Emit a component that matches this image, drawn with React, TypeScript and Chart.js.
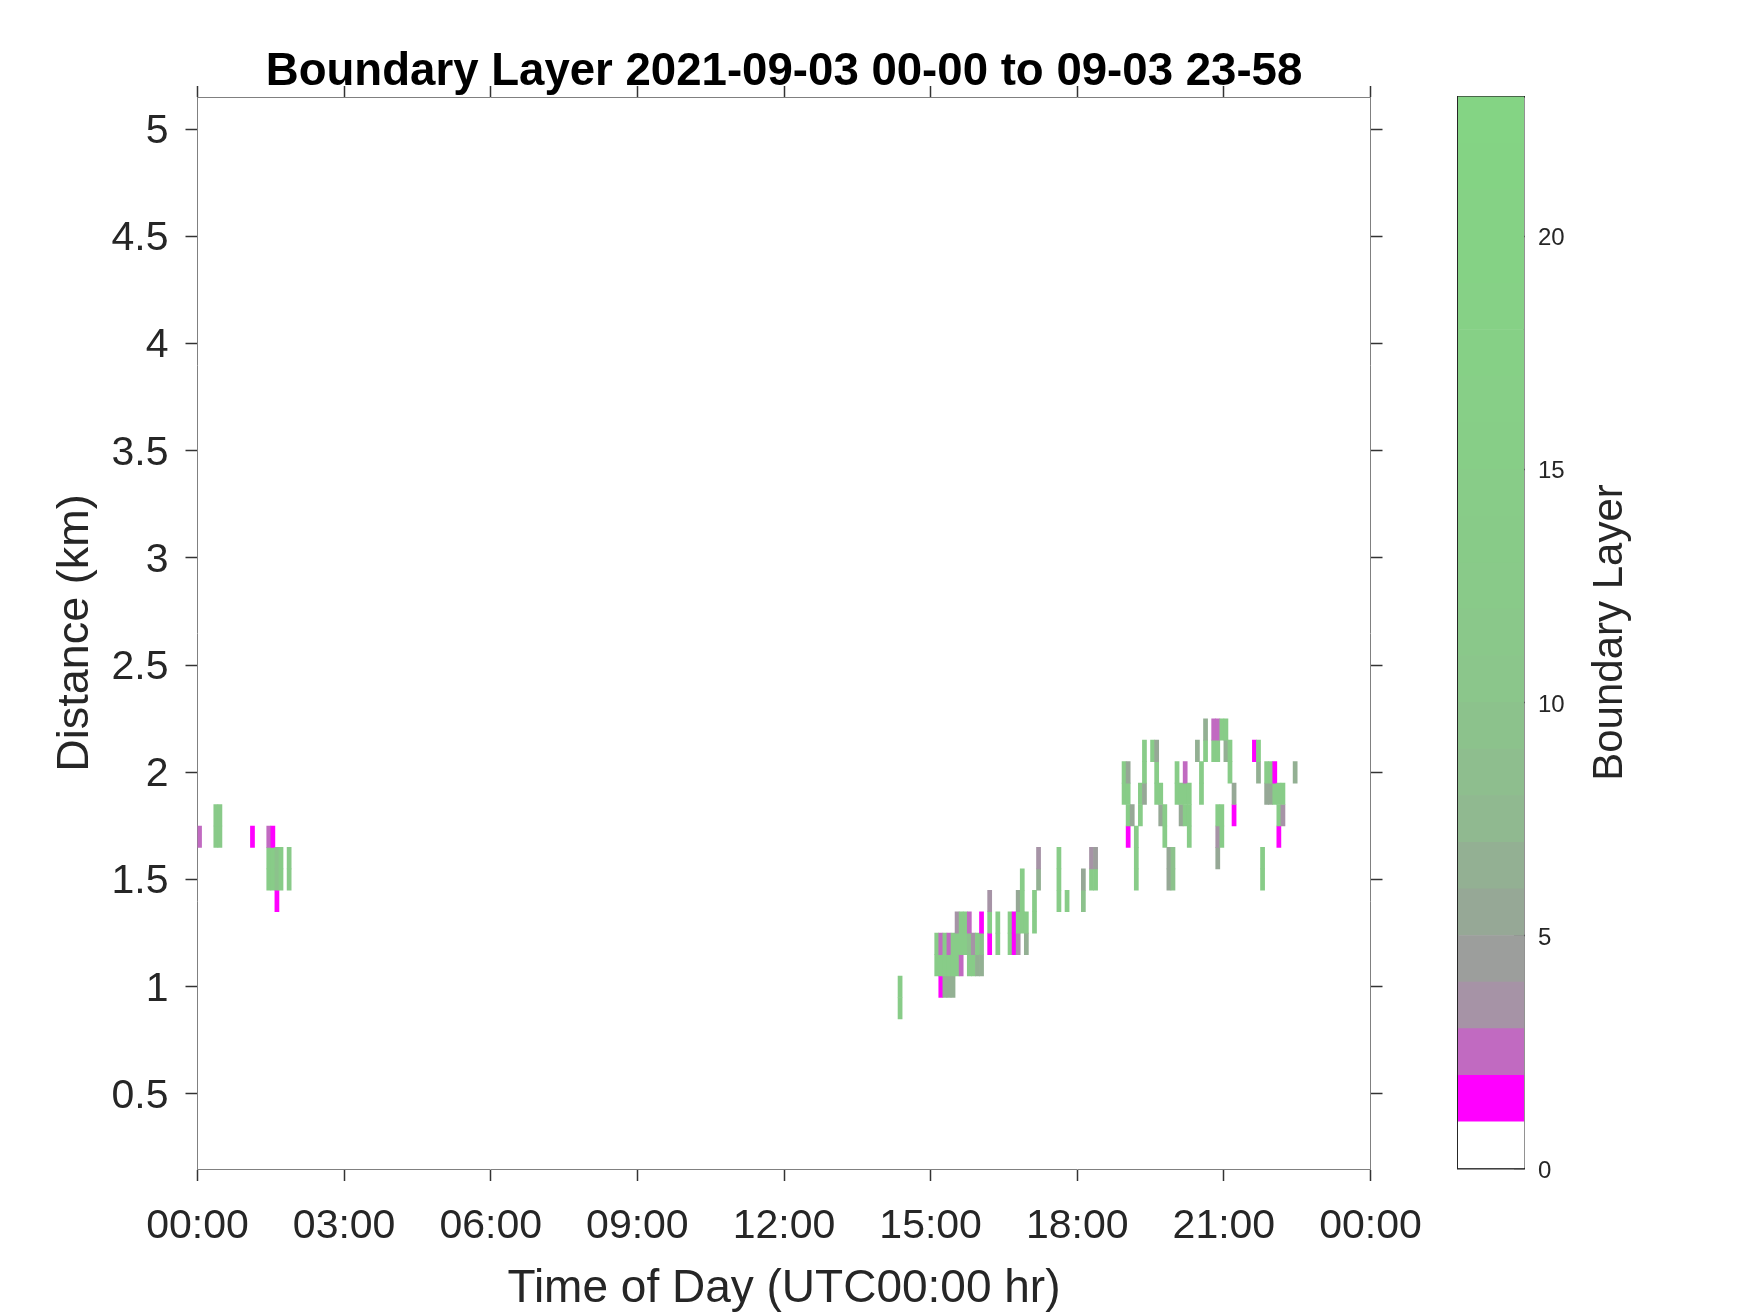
import { useEffect, useRef } from 'react';
import { Chart, registerables } from 'chart.js';

Chart.register(...registerables);

const FONT = '"Liberation Sans", Arial, Helvetica, sans-serif';
const TITLE = 'Boundary Layer 2021-09-03 00-00 to 09-03 23-58';
const X_LABEL = 'Time of Day (UTC00:00 hr)';
const Y_LABEL = 'Distance (km)';
const CB_LABEL = 'Boundary Layer';

const X_TICKS_MIN = [0, 180, 360, 540, 720, 900, 1080, 1260, 1440];
const Y_TICKS_KM = [0.5, 1, 1.5, 2, 2.5, 3, 3.5, 4, 4.5, 5];
const CB_TICKS = [0, 5, 10, 15, 20];
const X_MIN = 0;
const X_MAX = 1440;
const Y_MIN = 0.15;
const Y_MAX = 5.15;
const CB_MIN = 0;
const CB_MAX = 23;
const TIME_STEP_MIN = 5;
const HEIGHT_STEP_KM = 0.1;

// discrete colormap, one colour per level 0..22
const CMAP = [
  '#FFFFFF', '#FF00FF', '#C16AC1', '#A693A6', '#9C9E9C', '#96A896', '#93B093',
  '#90B990', '#8EBE8E', '#8CC28C', '#8BC68B', '#8AC88A', '#89CA89', '#88CB88',
  '#88CC88', '#87CE87', '#87CF87', '#86D086', '#86D186', '#85D285', '#85D285',
  '#84D384', '#84D484',
];

// [start time (min), height centre (km), level]
const MORNING_CELLS: [number, number, number][] = [
  [0, 1.7, 2],
  [20, 1.7, 12], [20, 1.8, 12],
  [25, 1.7, 12], [25, 1.8, 12],
  [65, 1.7, 1],
  [85, 1.5, 14], [85, 1.6, 14], [85, 1.7, 2],
  [90, 1.5, 14], [90, 1.6, 14], [90, 1.7, 1],
  [95, 1.4, 1], [95, 1.5, 9], [95, 1.6, 9],
  [100, 1.5, 14], [100, 1.6, 14],
  [110, 1.5, 12], [110, 1.6, 12],
];

const AFTERNOON_CELLS: [number, number, number][] = [
  [860, 0.9, 14], [860, 1.0, 14],
  [905, 1.1, 14], [905, 1.2, 14],
  [910, 1.0, 1], [910, 1.1, 14], [910, 1.2, 2],
  [915, 1.0, 6], [915, 1.1, 14], [915, 1.2, 14],
  [920, 1.0, 6], [920, 1.1, 14], [920, 1.2, 2],
  [925, 1.0, 6], [925, 1.1, 14], [925, 1.2, 14],
  [930, 1.1, 14], [930, 1.2, 14], [930, 1.3, 3],
  [935, 1.1, 2], [935, 1.2, 14], [935, 1.3, 14],
  [940, 1.2, 14], [940, 1.3, 14],
  [945, 1.1, 14], [945, 1.2, 9], [945, 1.3, 2],
  [950, 1.1, 14], [950, 1.2, 3],
  [955, 1.1, 6], [955, 1.2, 14],
  [960, 1.1, 6], [960, 1.2, 9], [960, 1.3, 1],
  [970, 1.2, 1], [970, 1.3, 14], [970, 1.4, 3],
  [980, 1.2, 14], [980, 1.3, 14],
  [995, 1.2, 14], [995, 1.3, 14],
  [1000, 1.2, 1], [1000, 1.3, 1],
  [1005, 1.2, 3], [1005, 1.3, 14], [1005, 1.4, 5],
  [1010, 1.3, 14], [1010, 1.4, 14], [1010, 1.5, 14],
  [1015, 1.2, 6], [1015, 1.3, 14],
  [1025, 1.3, 14], [1025, 1.4, 14],
  [1030, 1.5, 6], [1030, 1.6, 3],
  [1055, 1.4, 14], [1055, 1.5, 14], [1055, 1.6, 14],
  [1065, 1.4, 14],
  [1085, 1.4, 9], [1085, 1.5, 5],
  [1095, 1.5, 14], [1095, 1.6, 3],
  [1100, 1.5, 14], [1100, 1.6, 4],
];

const EVENING_CELLS: [number, number, number][] = [
  [1135, 1.9, 14], [1135, 2.0, 14],
  [1140, 1.7, 1], [1140, 1.8, 14], [1140, 1.9, 14], [1140, 2.0, 5],
  [1145, 1.8, 5],
  [1150, 1.5, 14], [1150, 1.6, 14], [1150, 1.7, 14],
  [1155, 1.8, 14], [1155, 1.9, 14],
  [1160, 1.9, 5], [1160, 2.0, 14], [1160, 2.1, 14],
  [1170, 2.1, 14],
  [1175, 1.9, 14], [1175, 2.0, 14], [1175, 2.1, 5],
  [1180, 1.8, 5], [1180, 1.9, 14],
  [1185, 1.7, 14], [1185, 1.8, 14],
  [1190, 1.5, 5], [1190, 1.6, 5],
  [1195, 1.5, 9], [1195, 1.6, 9],
  [1200, 1.9, 14], [1200, 2.0, 14],
  [1205, 1.8, 5], [1205, 1.9, 14],
  [1210, 1.8, 14], [1210, 1.9, 14], [1210, 2.0, 2],
  [1215, 1.7, 14], [1215, 1.8, 14], [1215, 1.9, 14],
  [1225, 2.1, 6],
  [1230, 1.9, 14], [1230, 2.0, 14],
  [1235, 2.1, 14], [1235, 2.2, 6],
  [1245, 2.1, 14], [1245, 2.2, 2],
  [1250, 1.6, 5], [1250, 1.7, 3], [1250, 1.8, 14], [1250, 2.1, 14], [1250, 2.2, 2],
  [1255, 1.7, 14], [1255, 1.8, 14], [1255, 2.2, 14],
  [1260, 2.1, 6], [1260, 2.2, 14],
  [1265, 2.0, 14], [1265, 2.1, 14],
  [1270, 1.8, 1], [1270, 1.9, 5],
  [1295, 2.1, 1],
  [1300, 2.0, 6], [1300, 2.1, 14],
  [1305, 1.5, 14], [1305, 1.6, 14],
  [1310, 1.9, 5], [1310, 2.0, 14],
  [1315, 1.9, 5], [1315, 2.0, 14],
  [1320, 1.9, 14], [1320, 2.0, 1],
  [1325, 1.7, 1], [1325, 1.8, 14], [1325, 1.9, 14],
  [1330, 1.8, 3], [1330, 1.9, 14],
  [1345, 2.0, 6],
];

// page layout (px)
const W = 1750;
const H = 1313;
const PLOT_LEFT = 197.5;
const PLOT_RIGHT = 1370.5;
const PLOT_TOP = 97;
const PLOT_BOTTOM = 1169;
const CB_CANVAS_LEFT = 1400;
const CB_LEFT = 1458;
const CB_RIGHT = 1524;
const CB_TOP = 96.5;
const CB_BOTTOM = 1168.5;

const TITLE_SIZE = 45.6;
const TITLE_PAD_TOP = 49.5;

const TICK_COLOR = '#333333';
const TEXT_COLOR = '#262626';
const AXIS_COLOR = '#808080';

const pad2 = (n: number) => String(n).padStart(2, '0');
const fmtTime = (v: number) => {
  const m = ((Math.round(v) % 1440) + 1440) % 1440;
  return `${pad2(Math.floor(m / 60))}:${pad2(m % 60)}`;
};

const tickGrid = (len: number) => ({
  display: true,
  drawOnChartArea: false,
  drawTicks: true,
  tickLength: len,
  tickColor: TICK_COLOR,
  tickWidth: 1.5,
  offset: false,
});

const cbLabelPlugin = {
  id: 'cbLabel',
  afterDraw(chart: any) {
    const { ctx, chartArea } = chart;
    ctx.save();
    ctx.translate(chartArea.right + 86, (chartArea.top + chartArea.bottom) / 2);
    ctx.rotate(-Math.PI / 2);
    ctx.font = `42px ${FONT}`;
    ctx.fillStyle = TEXT_COLOR;
    ctx.textAlign = 'center';
    ctx.textBaseline = 'middle';
    ctx.fillText(CB_LABEL, 0, 0);
    ctx.restore();
  },
};

export default function App() {
  const mainRef = useRef<HTMLCanvasElement>(null);
  const cbRef = useRef<HTMLCanvasElement>(null);

  useEffect(() => {
    const cells = [...MORNING_CELLS, ...AFTERNOON_CELLS, ...EVENING_CELLS];
    const barData = cells.map(([t, km]) => ({
      x: t + TIME_STEP_MIN / 2,
      y: [km - HEIGHT_STEP_KM / 2, km + HEIGHT_STEP_KM / 2],
    }));
    const barColors = cells.map(([, , lvl]) => CMAP[lvl]);

    const main = new Chart(mainRef.current as HTMLCanvasElement, {
      type: 'bar',
      data: {
        datasets: [
          {
            data: barData as any,
            backgroundColor: barColors,
            borderWidth: 0,
            barPercentage: 1,
            categoryPercentage: 1,
            xAxisID: 'x',
            yAxisID: 'y',
          },
        ],
      },
      options: {
        responsive: false,
        animation: false,
        devicePixelRatio: 1,
        events: [],
        layout: { padding: 0 },
        plugins: {
          legend: { display: false },
          tooltip: { enabled: false },
          title: {
            display: true,
            text: TITLE,
            fullSize: false,
            color: '#000000',
            font: { family: FONT, size: TITLE_SIZE, weight: 'bold', lineHeight: 1 },
            padding: { top: TITLE_PAD_TOP, bottom: 0 },
          },
        },
        scales: {
          x: {
            type: 'linear',
            position: 'bottom',
            min: X_MIN,
            max: X_MAX,
            offset: false,
            afterBuildTicks: (s: any) => {
              s.ticks = X_TICKS_MIN.map((value) => ({ value }));
            },
            afterFit: (s: any) => {
              s.height = H - PLOT_BOTTOM;
            },
            ticks: {
              callback: (v: any) => fmtTime(Number(v)),
              font: { family: FONT, size: 41 },
              color: TEXT_COLOR,
              padding: 21.5,
              maxRotation: 0,
              minRotation: 0,
              autoSkip: false,
            },
            grid: tickGrid(12),
            border: { display: true, color: AXIS_COLOR, width: 1 },
            title: {
              display: true,
              text: X_LABEL,
              color: TEXT_COLOR,
              font: { family: FONT, size: 46, lineHeight: 1 },
              padding: { top: 0, bottom: 0.5 },
            },
          },
          x2: {
            type: 'linear',
            position: 'top',
            min: X_MIN,
            max: X_MAX,
            offset: false,
            afterBuildTicks: (s: any) => {
              s.ticks = X_TICKS_MIN.map((value) => ({ value }));
            },
            afterFit: (s: any) => {
              s.height = PLOT_TOP - TITLE_PAD_TOP - TITLE_SIZE;
            },
            ticks: { display: false },
            grid: tickGrid(11),
            border: { display: true, color: AXIS_COLOR, width: 1 },
          },
          y: {
            type: 'linear',
            position: 'left',
            min: Y_MIN,
            max: Y_MAX,
            afterBuildTicks: (s: any) => {
              s.ticks = Y_TICKS_KM.map((value) => ({ value }));
            },
            afterFit: (s: any) => {
              s.width = PLOT_LEFT;
            },
            ticks: {
              callback: (v: any) => String(v),
              font: { family: FONT, size: 41 },
              color: TEXT_COLOR,
              padding: 17,
              labelOffset: 2.5,
              autoSkip: false,
            },
            grid: tickGrid(12),
            border: { display: true, color: AXIS_COLOR, width: 1 },
            title: {
              display: true,
              text: Y_LABEL,
              color: TEXT_COLOR,
              font: { family: FONT, size: 45 },
              padding: { top: 48.5, bottom: 0 },
            },
          },
          y2: {
            type: 'linear',
            position: 'right',
            min: Y_MIN,
            max: Y_MAX,
            afterBuildTicks: (s: any) => {
              s.ticks = Y_TICKS_KM.map((value) => ({ value }));
            },
            afterFit: (s: any) => {
              s.width = W - PLOT_RIGHT;
            },
            ticks: { display: false },
            grid: tickGrid(12),
            border: { display: true, color: AXIS_COLOR, width: 1 },
          },
        },
      } as any,
    });

    const cbBorder = { display: true, color: '#262626', width: 1.5 };
    const cb = new Chart(cbRef.current as HTMLCanvasElement, {
      type: 'bar',
      data: {
        labels: [''],
        datasets: CMAP.map((c) => ({
          data: [1],
          backgroundColor: c,
          borderWidth: 0,
          barPercentage: 1,
          categoryPercentage: 1,
          xAxisID: 'x',
          yAxisID: 'y',
        })),
      },
      options: {
        responsive: false,
        animation: false,
        devicePixelRatio: 1,
        events: [],
        layout: { padding: 0 },
        plugins: {
          legend: { display: false },
          tooltip: { enabled: false },
          title: { display: false },
        },
        scales: {
          x: {
            type: 'category',
            position: 'bottom',
            stacked: true,
            ticks: { display: false },
            grid: { display: false },
            border: cbBorder,
            afterFit: (s: any) => {
              s.height = H - CB_BOTTOM;
            },
          },
          xTop: {
            type: 'category',
            position: 'top',
            ticks: { display: false },
            grid: { display: false },
            border: cbBorder,
            afterFit: (s: any) => {
              s.height = CB_TOP;
            },
          },
          yLeft: {
            type: 'linear',
            position: 'left',
            min: CB_MIN,
            max: CB_MAX,
            ticks: { display: false },
            grid: { display: false },
            border: cbBorder,
            afterFit: (s: any) => {
              s.width = CB_LEFT - CB_CANVAS_LEFT;
            },
          },
          y: {
            type: 'linear',
            position: 'right',
            min: CB_MIN,
            max: CB_MAX,
            stacked: true,
            afterBuildTicks: (s: any) => {
              s.ticks = CB_TICKS.map((value) => ({ value }));
            },
            afterFit: (s: any) => {
              s.width = W - CB_RIGHT;
            },
            ticks: {
              font: { family: FONT, size: 24 },
              color: TEXT_COLOR,
              padding: 24,
              labelOffset: 2.5,
            },
            grid: {
              display: true,
              drawOnChartArea: false,
              drawTicks: true,
              tickLength: -10,
              tickColor: '#262626',
              tickWidth: 1.5,
            },
            border: cbBorder,
          },
        },
      } as any,
      plugins: [cbLabelPlugin],
    });

    return () => {
      main.destroy();
      cb.destroy();
    };
  }, []);

  return (
    <div style={{ position: 'absolute', left: 0, top: 0, width: W, height: H, background: '#ffffff' }}>
      <canvas
        ref={mainRef}
        width={W}
        height={H}
        style={{ position: 'absolute', left: 0, top: 0, width: W, height: H }}
      />
      <canvas
        ref={cbRef}
        width={W - CB_CANVAS_LEFT}
        height={H}
        style={{ position: 'absolute', left: CB_CANVAS_LEFT, top: 0, width: W - CB_CANVAS_LEFT, height: H }}
      />
    </div>
  );
}
